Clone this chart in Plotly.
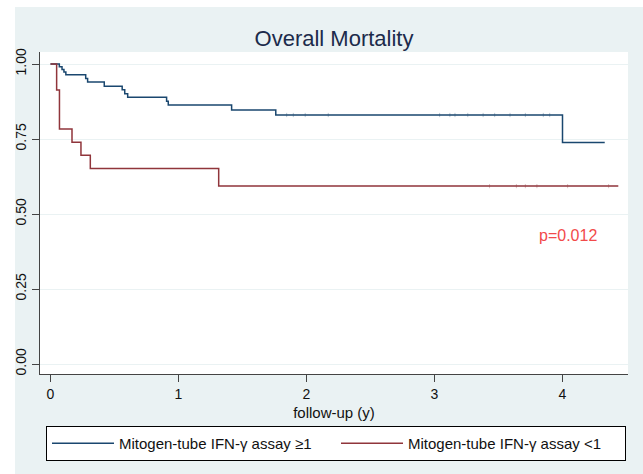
import plotly.graph_objects as go

# ---- data ----
blue_name = "Mitogen-tube IFN-γ assay ≥1"
blue_t = [0, 0.069, 0.090, 0.105, 0.120, 0.275, 0.290, 0.420, 0.560, 0.580, 0.603, 0.907, 0.920, 1.415, 1.760, 4.000, 4.330]
blue_s = [1.0, 0.991, 0.982, 0.973, 0.964, 0.952, 0.940, 0.926, 0.914, 0.901, 0.889, 0.876, 0.863, 0.847, 0.830, 0.738, 0.738]
blue_cens_t = [1.845, 1.897, 1.99, 2.17, 3.04, 3.12, 3.16, 3.26, 3.38, 3.47, 3.59, 3.71, 3.85, 3.90]

red_name = "Mitogen-tube IFN-γ assay <1"
red_t = [0, 0.048, 0.070, 0.168, 0.238, 0.311, 1.314, 4.436]
red_s = [1.0, 0.913, 0.783, 0.739, 0.696, 0.652, 0.593, 0.593]
red_cens_t = [3.43, 3.64, 3.71, 3.80, 4.04, 4.36]

y_ticks = [0, 0.25, 0.5, 0.75, 1.0]
x_ticks = [0, 1, 2, 3, 4]
p_text = "p=0.012"

BLUE = "#1a476f"
RED = "#90353b"
BG = "#eaf2f3"
FONT = "Liberation Sans, Arial, Helvetica, sans-serif"


def level_at(ts, ss, t):
    v = ss[0]
    for ti, si in zip(ts, ss):
        if ti <= t:
            v = si
    return v


fig = go.Figure()
fig.add_trace(go.Scatter(x=blue_t, y=blue_s, mode="lines", line=dict(color=BLUE, width=1.5, shape="hv"),
                         name=blue_name))
fig.add_trace(go.Scatter(x=red_t, y=red_s, mode="lines", line=dict(color=RED, width=1.5, shape="hv"),
                         name=red_name))
fig.add_trace(go.Scatter(x=blue_cens_t, y=[level_at(blue_t, blue_s, t) for t in blue_cens_t], mode="markers",
                         marker=dict(symbol="line-ns", size=3, line=dict(color=BLUE, width=1)),
                         opacity=0.3, showlegend=False, hoverinfo="skip"))
fig.add_trace(go.Scatter(x=red_cens_t, y=[level_at(red_t, red_s, t) for t in red_cens_t], mode="markers",
                         marker=dict(symbol="line-ns", size=3, line=dict(color=RED, width=1)),
                         opacity=0.3, showlegend=False, hoverinfo="skip"))

# plot area: x 40..628, y 52..374 in a 643x474 page
L, R, T, B = 40, 15, 52, 100
W, H = 643, 474
pw, ph = W - L - R, H - T - B
X0PX, XSCALE = 50.5, 128.0   # pixel of t=0, pixels per year
Y0PX, YSCALE = 364.0, 300.0  # pixel of S=0, pixels per unit

fig.add_shape(type="rect", xref="paper", yref="paper",
              x0=(15 - L) / pw, x1=(W + 10 - L) / pw,
              y0=-(H + 10 - (H - B)) / ph, y1=((H - B) - 7) / ph,
              fillcolor=BG, line=dict(width=0), layer="below")
fig.add_shape(type="rect", xref="paper", yref="paper", x0=0, x1=1, y0=0, y1=1,
              fillcolor="white", line=dict(width=0), layer="below")

fig.add_annotation(x=4.04, y=0.43, xref="x", yref="y", text=p_text, showarrow=False,
                   font=dict(family=FONT, size=16, color="#f24a4a"))

fig.update_layout(
    width=W, height=H,
    margin=dict(l=L, r=R, t=T, b=B),
    paper_bgcolor="white", plot_bgcolor="white",
    font=dict(family=FONT, size=14, color="#111111"),
    title=dict(text="Overall Mortality", x=(L + pw / 2) / W, xanchor="center",
               y=1 - 38 / H, yanchor="middle", yref="container",
               font=dict(family=FONT, size=22, color="#1c2b4b")),
    showlegend=True,
    legend=dict(orientation="h", x=(46 - L) / pw, xanchor="left",
                y=-(426 - (H - B)) / ph, yanchor="top",
                bgcolor="white", bordercolor="black", borderwidth=1,
                font=dict(family=FONT, size=15, color="#111111"),
                entrywidth=212, entrywidthmode="pixels", itemwidth=62),
)
fig.update_xaxes(range=[(L - X0PX) / XSCALE, (W - R - X0PX) / XSCALE], tickvals=x_ticks,
                 ticktext=[str(v) for v in x_ticks],
                 showgrid=False, zeroline=False, showline=True, linecolor="#444444", linewidth=1,
                 ticks="outside", ticklen=7, tickcolor="#444444",
                 tickfont=dict(family=FONT, size=14, color="#111111"),
                 title=dict(text="follow-up (y)", standoff=6, font=dict(family=FONT, size=15, color="#111111")))
fig.update_yaxes(range=[(Y0PX - (H - B)) / YSCALE, (Y0PX - T) / YSCALE], tickvals=y_ticks,
                 ticktext=["%.2f" % v for v in y_ticks],
                 tickangle=-90, showgrid=True, gridcolor=BG, gridwidth=1, zeroline=False,
                 showline=True, linecolor="#444444", linewidth=1,
                 ticks="outside", ticklen=7, tickcolor="#444444",
                 tickfont=dict(family=FONT, size=14, color="#111111"))

# remove the default page margin so the 643x474 figure fills the window exactly
fig.write_html("out.html", config={"displayModeBar": False},
               post_script="document.body.style.margin='0';document.body.style.overflow='hidden';")
